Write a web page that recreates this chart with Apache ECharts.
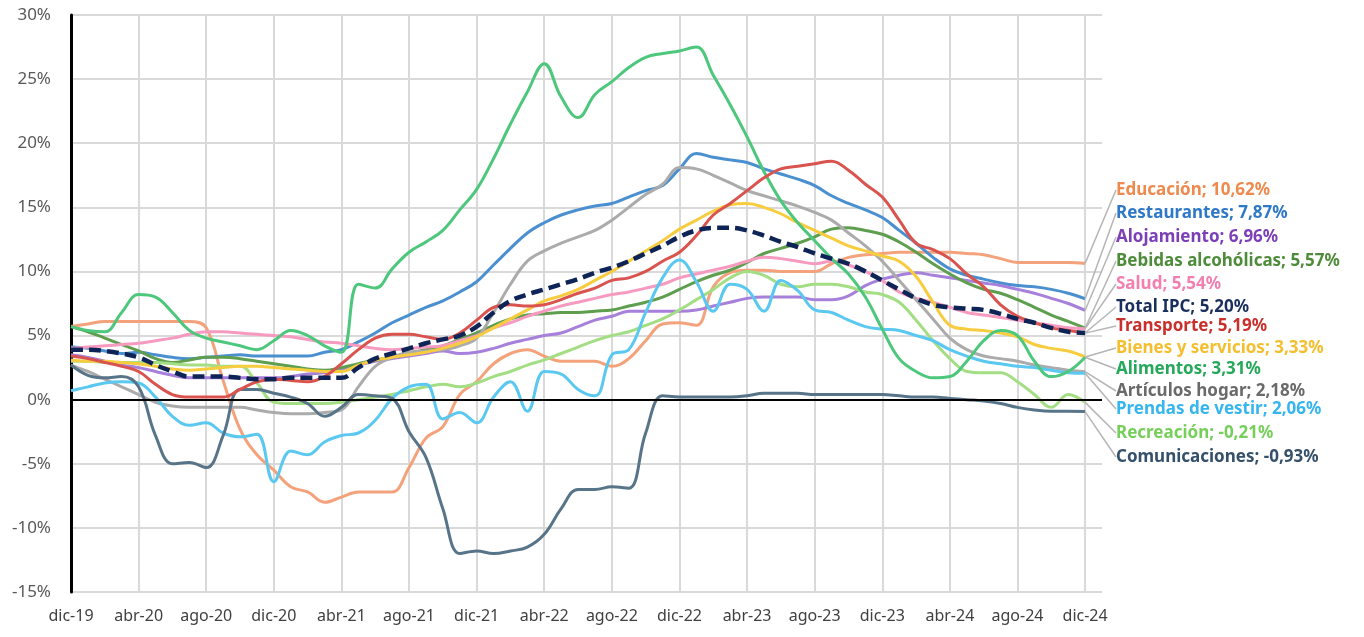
<!DOCTYPE html>
<html>
<head>
<meta charset="utf-8">
<script src="https://cdn.jsdelivr.net/npm/echarts@6/dist/echarts.min.js"></script>
<style>
html,body{margin:0;padding:0;background:#fff;}
#chart{width:1364px;height:637px;}
</style>
</head>
<body>
<div id="chart"></div>
<script>
// Month categories (dic-19 .. ene-25; ene-25 only pads the axis end)
const categories = [
 'dic-19','ene-20','feb-20','mar-20','abr-20','may-20','jun-20','jul-20','ago-20','sep-20','oct-20','nov-20',
 'dic-20','ene-21','feb-21','mar-21','abr-21','may-21','jun-21','jul-21','ago-21','sep-21','oct-21','nov-21',
 'dic-21','ene-22','feb-22','mar-22','abr-22','may-22','jun-22','jul-22','ago-22','sep-22','oct-22','nov-22',
 'dic-22','ene-23','feb-23','mar-23','abr-23','may-23','jun-23','jul-23','ago-23','sep-23','oct-23','nov-23',
 'dic-23','ene-24','feb-24','mar-24','abr-24','may-24','jun-24','jul-24','ago-24','sep-24','oct-24','nov-24',
 'dic-24','ene-25'
];

const yTicks = [-15,-10,-5,0,5,10,15,20,25,30];

const educacion = [5.7,5.9,6.1,6.1,6.1,6.1,6.1,6.1,5.6,1.5,-2.3,-4.3,-5.5,-6.8,-7.2,-8.0,-7.6,-7.2,-7.2,-7.2,-5.3,-3.0,-2.1,0.4,1.4,2.8,3.6,3.9,3.4,3.0,3.0,3.0,2.6,3.2,4.6,5.9,6.0,5.8,8.8,9.9,10.1,10.1,10.0,10.0,10.0,10.6,11.1,11.3,11.4,11.5,11.5,11.5,11.5,11.4,11.3,11.0,10.7,10.7,10.7,10.7,10.62];
const restaurantes = [4.1,4.0,3.8,3.6,3.7,3.5,3.3,3.2,3.3,3.4,3.5,3.4,3.4,3.4,3.4,3.7,3.9,4.5,5.2,6.0,6.6,7.2,7.7,8.4,9.2,10.5,11.8,13.0,13.8,14.4,14.8,15.1,15.3,15.8,16.3,16.7,18.0,19.2,18.9,18.7,18.5,18.0,17.6,17.2,16.7,15.9,15.3,14.8,14.2,13.2,12.2,11.1,10.2,9.7,9.4,9.1,8.9,8.8,8.6,8.3,7.87];
const alojamiento = [3.5,3.3,3.0,2.7,2.5,2.2,1.9,1.7,1.7,1.7,1.7,1.7,1.7,1.8,2.0,2.1,2.3,2.7,3.0,3.2,3.4,3.6,3.8,3.6,3.7,4.0,4.4,4.7,5.0,5.2,5.7,6.2,6.5,6.9,6.9,6.9,6.9,7.0,7.3,7.6,7.9,8.0,8.0,8.0,7.8,7.8,8.1,8.9,9.4,9.7,9.9,9.7,9.5,9.3,9.1,8.9,8.6,8.3,7.9,7.5,6.96];
const bebidas = [5.7,5.3,4.8,4.3,3.8,3.2,2.9,3.1,3.3,3.3,3.2,3.0,2.8,2.6,2.4,2.3,2.5,2.8,3.1,3.3,3.6,3.9,4.2,4.7,5.2,5.8,6.3,6.6,6.7,6.8,6.8,6.9,7.0,7.3,7.6,8.0,8.6,9.2,9.7,10.1,10.7,11.4,11.8,12.2,12.7,13.3,13.4,13.2,12.9,12.3,11.5,10.6,9.8,9.1,8.6,8.3,7.8,7.2,6.6,6.1,5.57];
const salud = [4.0,4.1,4.2,4.3,4.4,4.6,4.8,5.1,5.3,5.3,5.2,5.1,5.0,4.9,4.7,4.5,4.4,4.2,4.0,3.9,4.0,4.1,4.2,4.6,5.0,5.6,6.0,6.5,6.9,7.3,7.6,7.9,8.2,8.4,8.7,9.0,9.5,9.8,10.1,10.4,10.8,11.1,11.0,10.8,10.6,10.8,10.5,10.0,9.3,8.4,7.9,7.6,7.2,6.8,6.6,6.4,6.2,6.0,5.8,5.6,5.54];
const totalIPC = [3.9,3.9,3.8,3.6,3.3,2.7,2.2,1.8,1.8,1.8,1.7,1.6,1.6,1.7,1.7,1.7,1.7,2.5,3.2,3.6,4.0,4.4,4.7,5.0,5.7,6.8,7.7,8.2,8.6,9.0,9.4,9.9,10.3,10.8,11.4,12.0,12.7,13.2,13.4,13.4,13.2,12.8,12.3,11.9,11.4,11.0,10.6,10.0,9.3,8.6,7.9,7.4,7.2,7.1,7.0,6.7,6.3,6.0,5.6,5.3,5.20];
const transporte = [3.4,3.2,2.9,2.6,2.2,1.2,0.4,0.2,0.2,0.2,0.8,1.4,1.6,1.5,1.4,1.8,2.8,3.9,4.8,5.1,5.1,4.9,4.7,5.2,6.2,7.2,7.4,7.3,7.4,7.8,8.3,8.7,9.3,9.5,10.0,10.8,11.5,12.8,14.4,15.3,16.3,17.3,18.0,18.2,18.4,18.6,17.9,16.8,15.8,14.0,12.2,11.7,11.0,9.8,8.8,7.4,6.5,6.0,5.6,5.4,5.19];
const bienes = [3.1,3.0,3.0,2.9,2.8,2.6,2.4,2.3,2.4,2.5,2.6,2.6,2.5,2.4,2.3,2.2,2.2,2.7,3.1,3.3,3.5,3.7,4.0,4.4,4.9,5.6,6.3,7.0,7.7,8.1,8.6,9.3,10.0,10.8,11.6,12.4,13.3,14.0,14.7,15.2,15.3,15.0,14.5,13.8,13.2,12.6,12.0,11.6,11.2,10.8,9.6,7.6,5.8,5.5,5.4,5.2,4.9,4.3,4.0,3.8,3.33];
const alimentos = [5.7,5.4,5.3,6.8,8.2,8.0,6.8,5.4,4.8,4.5,4.2,3.9,4.6,5.4,5.0,4.2,3.7,9.0,8.7,10.2,11.5,12.3,13.2,14.8,16.4,18.8,21.5,24.0,26.2,23.6,22.0,23.8,24.8,25.9,26.7,27.0,27.2,27.5,25.3,23.0,20.5,17.8,15.5,13.8,12.4,11.0,9.8,8.0,5.5,3.2,2.2,1.7,1.8,3.0,4.6,5.4,5.0,3.0,1.8,2.2,3.31];
const articulos = [2.7,2.2,1.6,1.0,0.4,-0.2,-0.5,-0.6,-0.6,-0.6,-0.6,-0.8,-1.0,-1.1,-1.1,-1.0,-0.8,1.0,2.6,3.3,3.7,3.8,3.9,4.2,4.8,6.8,9.0,10.8,11.6,12.2,12.7,13.2,14.0,15.0,16.0,16.8,18.1,18.0,17.5,16.9,16.3,15.9,15.5,15.1,14.6,14.0,13.0,12.0,10.8,9.3,7.8,6.3,4.8,3.9,3.4,3.2,3.0,2.7,2.5,2.3,2.18];
const prendas = [0.7,1.0,1.3,1.4,1.3,0.2,-1.3,-2.0,-1.8,-2.6,-2.9,-2.7,-6.4,-4.0,-4.3,-3.3,-2.8,-2.6,-1.6,0.1,1.0,1.2,-1.5,-1.0,-1.8,0.2,1.4,-0.9,2.2,2.0,0.8,0.3,3.5,3.9,6.8,9.5,10.9,9.2,6.9,9.0,8.6,6.9,9.3,8.5,7.0,6.8,6.2,5.7,5.5,5.4,5.0,4.6,3.9,3.4,3.0,2.8,2.6,2.5,2.3,2.1,2.06];
const recreacion = [3.0,3.0,2.9,2.9,2.9,2.9,2.8,2.7,2.7,2.6,2.6,1.3,-0.2,-0.3,-0.3,-0.3,-0.2,0.0,0.2,0.4,0.7,1.0,1.2,1.0,1.3,1.8,2.2,2.7,3.1,3.6,4.1,4.6,5.0,5.3,5.8,6.3,7.0,7.8,8.6,9.5,10.0,9.7,9.0,8.8,9.0,9.0,8.8,8.4,8.2,7.6,6.2,4.6,3.2,2.2,2.1,2.1,1.4,0.4,-0.6,0.4,-0.21];
const comunicaciones = [2.7,1.9,1.7,1.8,1.0,-2.8,-5.0,-4.9,-5.3,-2.8,0.8,0.8,0.5,0.2,-0.3,-1.3,-0.6,0.4,0.3,0.1,-2.5,-4.5,-8.5,-12.0,-11.8,-12.0,-11.8,-11.5,-10.5,-8.5,-7.0,-7.0,-6.8,-6.9,-2.6,0.3,0.2,0.2,0.2,0.2,0.3,0.5,0.5,0.5,0.4,0.4,0.4,0.4,0.4,0.3,0.2,0.2,0.1,0.0,-0.1,-0.3,-0.6,-0.8,-0.9,-0.9,-0.93];

const seriesDefs = [
  {name:'Educación', data:educacion, line:'#F3A27C', text:'#EE8A4E', labelY:190},
  {name:'Restaurantes', data:restaurantes, line:'#4A8FD0', text:'#2E78C7', labelY:213},
  {name:'Alojamiento', data:alojamiento, line:'#A680DA', text:'#7B3FB8', labelY:237},
  {name:'Bebidas alcohólicas', data:bebidas, line:'#5E9E4E', text:'#4E8B3A', labelY:261},
  {name:'Salud', data:salud, line:'#F79AC0', text:'#F27FAF', labelY:284},
  {name:'Recreación', data:recreacion, line:'#A3DE84', text:'#77CF5B', labelY:433},
  {name:'Artículos hogar', data:articulos, line:'#ABABAB', text:'#6A6A6A', labelY:391},
  {name:'Prendas de vestir', data:prendas, line:'#5AC8F0', text:'#35B6EE', labelY:409},
  {name:'Comunicaciones', data:comunicaciones, line:'#587488', text:'#34506A', labelY:457},
  {name:'Bienes y servicios', data:bienes, line:'#F8CC3F', text:'#F5BE2E', labelY:348},
  {name:'Alimentos', data:alimentos, line:'#4CC77C', text:'#25A85A', labelY:369},
  {name:'Transporte', data:transporte, line:'#D9534F', text:'#C9302C', labelY:326},
  {name:'Total IPC', data:totalIPC, line:'#0F2456', text:'#1B2F5E', labelY:307, dashed:true}
];

const FONT = 'Noto Sans';

const series = seriesDefs.map(function(d, si){
  const last = d.data.length - 1;
  const data = d.data.map(function(v, i){
    if (i !== last) return v;
    return {
      value: v,
      symbol: 'circle',
      symbolSize: 0,
      itemStyle: {color: 'rgba(0,0,0,0)', borderWidth: 0},
      label: {
        show: true,
        position: 'right',
        formatter: function(p){ return d.name + '; ' + p.value.toFixed(2).replace('.', ',') + '%'; },
        color: d.text,
        opacity: 1,
        fontFamily: FONT,
        fontWeight: 'bold',
        fontSize: 17
      }
    };
  });
  const s = {
    name: d.name,
    type: 'line',
    data: data,
    smooth: 0.4,
    symbol: 'none',
    showAllSymbol: true,
    clip: false,
    animation: false,
    z: d.dashed ? 5 : 2,
    lineStyle: {
      color: d.line,
      width: d.dashed ? 4.5 : 3,
      type: d.dashed ? [12, 6] : 'solid'
    },
    itemStyle: {color: d.line},
    labelLine: {show: true, lineStyle: {color: '#B5B5B5', width: 1.5}},
    labelLayout: function(){
      return {x: 1116, y: d.labelY, align: 'left', verticalAlign: 'middle'};
    }
  };
  if (si === 0) {
    s.markLine = {
      silent: true,
      symbol: 'none',
      label: {show: false},
      lineStyle: {color: '#000', width: 2, type: 'solid'},
      data: [{yAxis: 0}],
      animation: false
    };
  }
  return s;
});

const chart = echarts.init(document.getElementById('chart'), null, {renderer: 'canvas'});
chart.setOption({
  backgroundColor: '#ffffff',
  animation: false,
  grid: {left: 71, right: 262, top: 15, bottom: 45, containLabel: false},
  xAxis: {
    type: 'category',
    data: categories,
    boundaryGap: false,
    axisLine: {show: false, onZero: false},
    axisTick: {show: false},
    axisLabel: {interval: 3, color: '#404040', fontSize: 16, fontFamily: FONT, margin: 16},
    splitLine: {show: true, interval: 3, lineStyle: {color: '#D9D9D9', width: 2}}
  },
  yAxis: {
    type: 'value',
    min: yTicks[0],
    max: yTicks[yTicks.length - 1],
    interval: 5,
    axisLine: {show: true, lineStyle: {color: '#000', width: 3}},
    axisTick: {show: false},
    axisLabel: {formatter: '{value}%', color: '#595959', fontSize: 17, fontFamily: FONT, margin: 20},
    splitLine: {show: true, lineStyle: {color: '#D9D9D9', width: 2}}
  },
  series: series
});
</script>
</body>
</html>
